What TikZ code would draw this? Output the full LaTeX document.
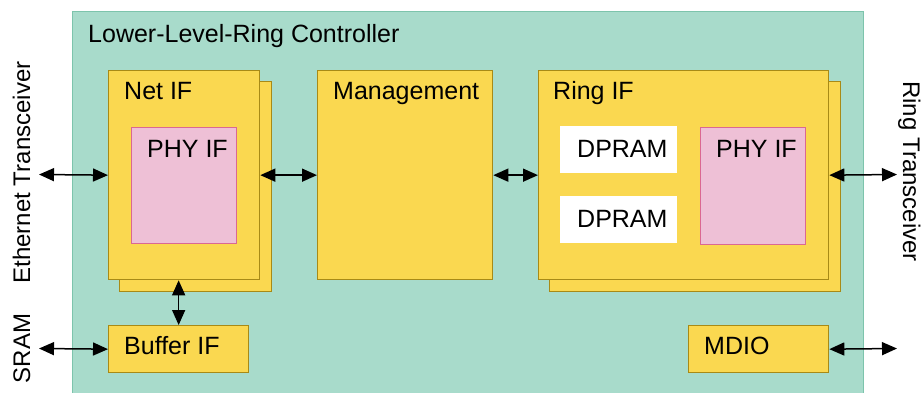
\documentclass[tikz,border=0pt]{standalone}
\usepackage{fontspec}
\setmainfont{Liberation Sans}
\usetikzlibrary{arrows.meta}

\definecolor{ctrlgreen}{RGB}{168,219,203}
\definecolor{ctrlgreenline}{RGB}{125,196,172}
\definecolor{blockyellow}{RGB}{250,216,80}
\definecolor{blockline}{RGB}{168,138,22}
\definecolor{phypink}{RGB}{238,192,214}
\definecolor{phyline}{RGB}{218,104,146}

\tikzset{
  block/.style={draw=blockline, fill=blockyellow, line width=1.3pt,
    rectangle, inner sep=0pt, anchor=north west},
  phybox/.style={draw=phyline, fill=phypink, line width=1pt,
    rectangle, inner sep=0pt, anchor=north west},
  rambox/.style={fill=white, rectangle, inner sep=0pt, anchor=north west},
  lbl/.style={inner sep=0pt, anchor=base west,
    font=\fontsize{25}{30}\selectfont},
  sidelbl/.style={inner sep=0pt, font=\fontsize{24}{29}\selectfont},
  link/.style={line width=1.5pt,
    {Triangle[length=15pt,width=13pt]}-{Triangle[length=15pt,width=13pt]}}
}

\begin{document}
\begin{tikzpicture}[x=1pt,y=-1pt]
  \useasboundingbox (0,0) rectangle (921,392);
  \fill[white] (0,0) rectangle (921,392);

  % controller area
  \node[draw=ctrlgreenline, fill=ctrlgreen, line width=1pt, rectangle,
        inner sep=0pt, anchor=north west, minimum width=791pt,
        minimum height=400pt] (ctrl) at (72,11) {};
  \node[lbl] (ctrllbl) at (88,42) {Lower-Level-Ring Controller};

  % Net IF (stacked)
  \node[block, minimum width=152pt, minimum height=210pt] (netifback) at (119,81) {};
  \node[block, minimum width=151pt, minimum height=209pt] (netif) at (108,70) {};
  \node[lbl] (netiflbl) at (124,99) {Net IF};
  \node[phybox, minimum width=105pt, minimum height=116pt] (phyl) at (131,127) {};
  \node[lbl] (phyllbl) at (147,157) {PHY IF};

  % Management
  \node[block, minimum width=175pt, minimum height=209pt] (mgmt) at (317,70) {};
  \node[lbl] (mgmtlbl) at (333,99) {Management};

  % Ring IF (stacked)
  \node[block, minimum width=291pt, minimum height=210pt] (ringifback) at (549,81) {};
  \node[block, minimum width=290pt, minimum height=209pt] (ringif) at (538,70) {};
  \node[lbl] (ringiflbl) at (553,99) {Ring IF};
  \node[rambox, minimum width=117pt, minimum height=47pt] (ram1) at (560,126) {};
  \node[lbl] (ram1lbl) at (577,157) {DPRAM};
  \node[rambox, minimum width=117pt, minimum height=47pt] (ram2) at (560,196) {};
  \node[lbl] (ram2lbl) at (577,227) {DPRAM};
  \node[phybox, minimum width=105pt, minimum height=117pt] (phyr) at (700,127) {};
  \node[lbl] (phyrlbl) at (716,157) {PHY IF};

  % Buffer IF and MDIO
  \node[block, minimum width=140pt, minimum height=47pt] (bufif) at (108,325) {};
  \node[lbl] (bufiflbl) at (124,354) {Buffer IF};
  \node[block, minimum width=140pt, minimum height=47pt] (mdio) at (688,325) {};
  \node[lbl] (mdiolbl) at (704,354) {MDIO};

  % outside parties
  \node[sidelbl, rotate=90, anchor=base] (eth) at (30,172.5) {Ethernet Transceiver};
  \node[sidelbl, rotate=90, anchor=base] (sram) at (30,348.5) {SRAM};
  \node[sidelbl, rotate=-90, anchor=base] (ring) at (903,171.5) {Ring Transceiver};

  % free ends of the external links
  \coordinate (ethend) at (39,174.5);
  \coordinate (sramend) at (39,348.5);
  \coordinate (ringend) at (897,174.5);
  \coordinate (mdioend) at (897,348.5);

  % connections
  \draw[link] (ethend) -- (netif.west);
  \draw[link] (netif.east) -- (mgmt.west);
  \draw[link] (mgmt.east) -- (ringif.west);
  \draw[link] (ringif.east) -- (ringend);
  \draw[link] (bufif.north) -- (bufif.north |- netif.south);
  \draw[link] (sramend) -- (bufif.west);
  \draw[link] (mdio.east) -- (mdioend);
\end{tikzpicture}
\end{document}
